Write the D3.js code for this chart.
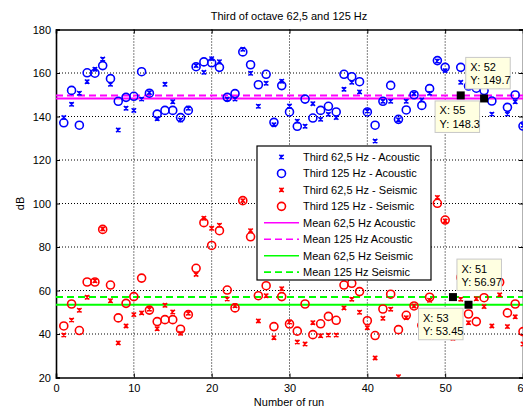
<!DOCTYPE html>
<html>
<head>
<meta charset="utf-8">
<script src="https://cdn.jsdelivr.net/npm/d3@7/dist/d3.min.js"></script>
<style>
  html, body { margin: 0; padding: 0; background: #fff; }
  svg { display: block; font-family: "Liberation Sans", Arial, Helvetica, sans-serif; }
</style>
</head>
<body>
<div id="chart"></div>
<script>
// Run numbers 1..60
const runs = d3.range(1, 61);

// Third-octave levels (dB) per run
const acoustic625 = [139.5,145.6,150.7,156.0,161.7,166.4,154.8,133.8,143.8,142.8,
  148.0,151.0,139.0,154.8,146.8,138.4,143.8,163.4,160.3,166.6,
  165.2,148.0,148.0,170.9,159.9,144.7,155.3,136.2,156.2,144.8,
  137.8,135.5,145.9,138.7,141.0,139.5,152.5,155.7,151.3,142.5,
  128.7,147.0,147.0,138.5,147.0,150.5,147.6,150.7,165.5,161.1,
  141.0,155.7,137.0,143.0,148.4,141.1,163.0,141.1,146.8,136.0];

const acoustic125 = [137.1,152.0,136.0,160.1,159.9,163.4,157.4,147.0,148.8,149.3,
  160.6,150.7,141.1,142.8,142.8,139.5,142.8,162.9,165.1,164.7,
  162.6,148.8,150.5,169.7,163.8,154.6,159.4,137.3,154.2,142.1,
  135.5,148.0,139.3,142.8,144.7,142.1,159.4,158.3,156.0,142.1,
  136.0,147.0,154.3,138.7,143.0,150.0,145.1,152.8,165.7,162.6,
  136.0,162.6,154.0,153.0,151.9,147.1,155.0,144.2,149.9,135.6];

const seismic625 = [39.5,46.4,50.9,56.9,64.5,88.3,55.3,35.9,43.7,48.9,
  49.7,51.4,42.4,53.2,50.1,40.3,49.5,67.4,93.2,88.6,
  90.0,56.1,53.0,101.3,87.5,46.0,57.6,38.3,60.8,45.5,
  36.3,35.4,45.2,39.2,39.5,39.5,52.0,56.0,50.0,42.9,
  29.0,47.2,51.4,20.4,47.5,52.9,40.0,55.5,102.8,92.0,
  38.0,56.0,45.2,56.2,52.6,43.7,58.0,43.4,47.9,35.4];

const seismic125 = [43.7,53.8,41.6,63.9,63.9,88.1,62.5,47.4,54.1,57.2,
  65.7,51.0,45.7,46.6,46.6,42.2,48.9,70.2,91.2,80.7,
  87.5,60.2,52.0,101.3,84.7,57.6,62.2,43.4,57.2,44.6,
  41.3,53.8,39.7,44.7,48.1,46.3,62.5,63.3,59.5,46.1,
  39.3,51.5,58.3,42.0,48.6,52.9,44.0,56.9,100.1,92.4,
  40.0,66.0,49.2,45.7,56.7,70.0,63.8,49.7,53.8,41.1];

// Mean levels
const meanLabels = ["Mean 62,5 Hz Acoustic", "Mean 125 Hz Acoustic", "Mean 62,5 Hz Seismic", "Mean 125 Hz Seismic"];
const meanValues = [148.3, 149.7, 53.45, 56.97];

// Data tips: run, value
const tipRuns = [52, 55, 51, 53];
const tipValues = [149.7, 148.3, 56.97, 53.45];

const xTicks = [0, 10, 20, 30, 40, 50, 60];
const yTicks = [20, 40, 60, 80, 100, 120, 140, 160, 180];

const W = 523, H = 409;
const svg = d3.select("#chart").append("svg").attr("width", W).attr("height", H);

const x = d3.scaleLinear().domain([0, 60]).range([56, 523]);
const y = d3.scaleLinear().domain([20, 180]).range([377.5, 29.5]);

const BLUE = "#0000ff", RED = "#ff0000", MAG = "#ff00ff", GRN = "#00ff00";

// Clip for the plotting area
svg.append("defs").append("clipPath").attr("id", "plotclip")
  .append("rect").attr("x", x(0)).attr("y", y(180)).attr("width", x(60) - x(0)).attr("height", y(20) - y(180));

// Grid
const grid = svg.append("g");
grid.selectAll("line.gx").data(xTicks.slice(1, -1)).join("line")
  .attr("x1", d => x(d)).attr("x2", d => x(d)).attr("y1", y(180)).attr("y2", y(20))
  .attr("stroke", "#000").attr("stroke-width", 1).attr("stroke-dasharray", "1,2");
grid.selectAll("line.gy").data(yTicks.slice(1, -1)).join("line")
  .attr("y1", d => y(d)).attr("y2", d => y(d)).attr("x1", x(0)).attr("x2", x(60))
  .attr("stroke", "#000").attr("stroke-width", 1).attr("stroke-dasharray", "1,2");

// Axes (ticks inward)
const axB = d3.axisBottom(x).tickValues(xTicks).tickSize(-4).tickPadding(7).tickFormat(d3.format("d"));
const axL = d3.axisLeft(y).tickValues(yTicks).tickSize(-4).tickPadding(5).tickFormat(d3.format("d"));
const axT = d3.axisTop(x).tickValues(xTicks).tickSize(-4).tickFormat("");
const axR = d3.axisRight(y).tickValues(yTicks).tickSize(-4).tickFormat("");

function styleAxis(g) {
  g.select(".domain").attr("stroke", "#000").attr("stroke-width", 1.6);
  g.selectAll(".tick line").attr("stroke", "#000").attr("stroke-width", 1);
  g.selectAll(".tick text").attr("fill", "#000").style("font-size", "11px")
    .style("font-family", "'Liberation Sans', Arial, sans-serif");
}
svg.append("g").attr("transform", `translate(0,${y(20)})`).call(axB).call(styleAxis);
svg.append("g").attr("transform", `translate(${x(0)},0)`).call(axL).call(styleAxis);
svg.append("g").attr("transform", `translate(0,${y(180)})`).call(axT).call(styleAxis);
svg.append("g").attr("transform", `translate(${x(60)},0)`).call(axR).call(styleAxis);

const plot = svg.append("g").attr("clip-path", "url(#plotclip)");

// Mean lines
const meanColors = [MAG, MAG, GRN, GRN];
const meanDash = [null, "7,4", null, "7,4"];
plot.selectAll("line.mean").data(meanValues).join("line")
  .attr("x1", x(0)).attr("x2", x(60))
  .attr("y1", d => y(d)).attr("y2", d => y(d))
  .attr("stroke", (d, i) => meanColors[i]).attr("stroke-width", 2)
  .attr("stroke-dasharray", (d, i) => meanDash[i]);

// Markers
function crosses(g, vals, color) {
  const s = 2.2;
  g.selectAll(null).data(vals).join("path")
    .attr("d", (d, i) => {
      const cx = x(runs[i]), cy = y(d);
      return `M${cx - s},${cy - s}L${cx + s},${cy + s}M${cx - s},${cy + s}L${cx + s},${cy - s}M${cx},${cy - s}L${cx},${cy + s}`;
    })
    .attr("stroke", color).attr("stroke-width", 1.5).attr("fill", "none");
}
function circles(g, vals, color) {
  g.selectAll(null).data(vals).join("circle")
    .attr("cx", (d, i) => x(runs[i])).attr("cy", d => y(d)).attr("r", 4)
    .attr("stroke", color).attr("stroke-width", 1.6).attr("fill", "none");
}
crosses(plot.append("g"), acoustic625, BLUE);
circles(plot.append("g"), acoustic125, BLUE);
crosses(plot.append("g"), seismic625, RED);
circles(plot.append("g"), seismic125, RED);

// Data tips
const tipOffsets = [[5, -38], [-49, 2.5], [4, -38], [-50, 3.5]];
const tips = svg.append("g");
tipRuns.forEach((r, i) => {
  const px = x(r), py = y(tipValues[i]);
  tips.append("rect").attr("x", px - 4).attr("y", py - 4).attr("width", 8).attr("height", 8).attr("fill", "#000");
  const bx = px + tipOffsets[i][0], by = py + tipOffsets[i][1];
  tips.append("rect").attr("x", bx).attr("y", by).attr("width", 44.5).attr("height", 31.5)
    .attr("fill", "#ffffe1").attr("stroke", "#c8c8c8").attr("stroke-width", 1);
  tips.append("text").attr("x", bx + 4.5).attr("y", by + 13.5).style("font-size", "11px").attr("fill", "#000").text(`X: ${r}`);
  tips.append("text").attr("x", bx + 4.5).attr("y", by + 27).style("font-size", "11px").attr("fill", "#000").text(`Y: ${tipValues[i]}`);
});

// Title and axis labels
svg.append("text").attr("x", 289).attr("y", 19.5).attr("text-anchor", "middle").style("font-size", "11px").text("Third of octave 62,5 and 125 Hz");
svg.append("text").attr("x", 289).attr("y", 406).attr("text-anchor", "middle").style("font-size", "11px").text("Number of run");
svg.append("text").attr("transform", `translate(24,${(y(20) + y(180)) / 2}) rotate(-90)`).attr("text-anchor", "middle").style("font-size", "11px").text("dB");

// Legend
const legendLabels = ["Third 62,5 Hz - Acoustic", "Third 125 Hz - Acoustic", "Third 62,5 Hz - Seismic", "Third 125 Hz - Seismic"].concat(meanLabels);
const legendKinds = ["x", "o", "x", "o", "line", "line", "line", "line"];
const legendColors = [BLUE, BLUE, RED, RED, MAG, MAG, GRN, GRN];
const legendDash = [null, null, null, null, null, "7,4", null, "7,4"];
const lg = svg.append("g");
const lx = 257, ly = 146, lw = 174, lh = 134;
lg.append("rect").attr("x", lx).attr("y", ly).attr("width", lw).attr("height", lh)
  .attr("fill", "#fff").attr("stroke", "#000").attr("stroke-width", 1.2);
legendLabels.forEach((lab, i) => {
  const cy = ly + 11 + i * 16.45;
  const mx = lx + 24.5;
  if (legendKinds[i] === "x") {
    const s = 2.2;
    lg.append("path").attr("d", `M${mx - s},${cy - s}L${mx + s},${cy + s}M${mx - s},${cy + s}L${mx + s},${cy - s}M${mx},${cy - s}L${mx},${cy + s}`)
      .attr("stroke", legendColors[i]).attr("stroke-width", 1.5).attr("fill", "none");
  } else if (legendKinds[i] === "o") {
    lg.append("circle").attr("cx", mx).attr("cy", cy).attr("r", 4).attr("fill", "none")
      .attr("stroke", legendColors[i]).attr("stroke-width", 1.6);
  } else {
    lg.append("line").attr("x1", lx + 7).attr("x2", lx + 42).attr("y1", cy).attr("y2", cy)
      .attr("stroke", legendColors[i]).attr("stroke-width", 1.6).attr("stroke-dasharray", legendDash[i]);
  }
  lg.append("text").attr("x", lx + 46).attr("y", cy + 4).style("font-size", "11px").attr("fill", "#000").text(lab);
});
</script>
</body>
</html>
